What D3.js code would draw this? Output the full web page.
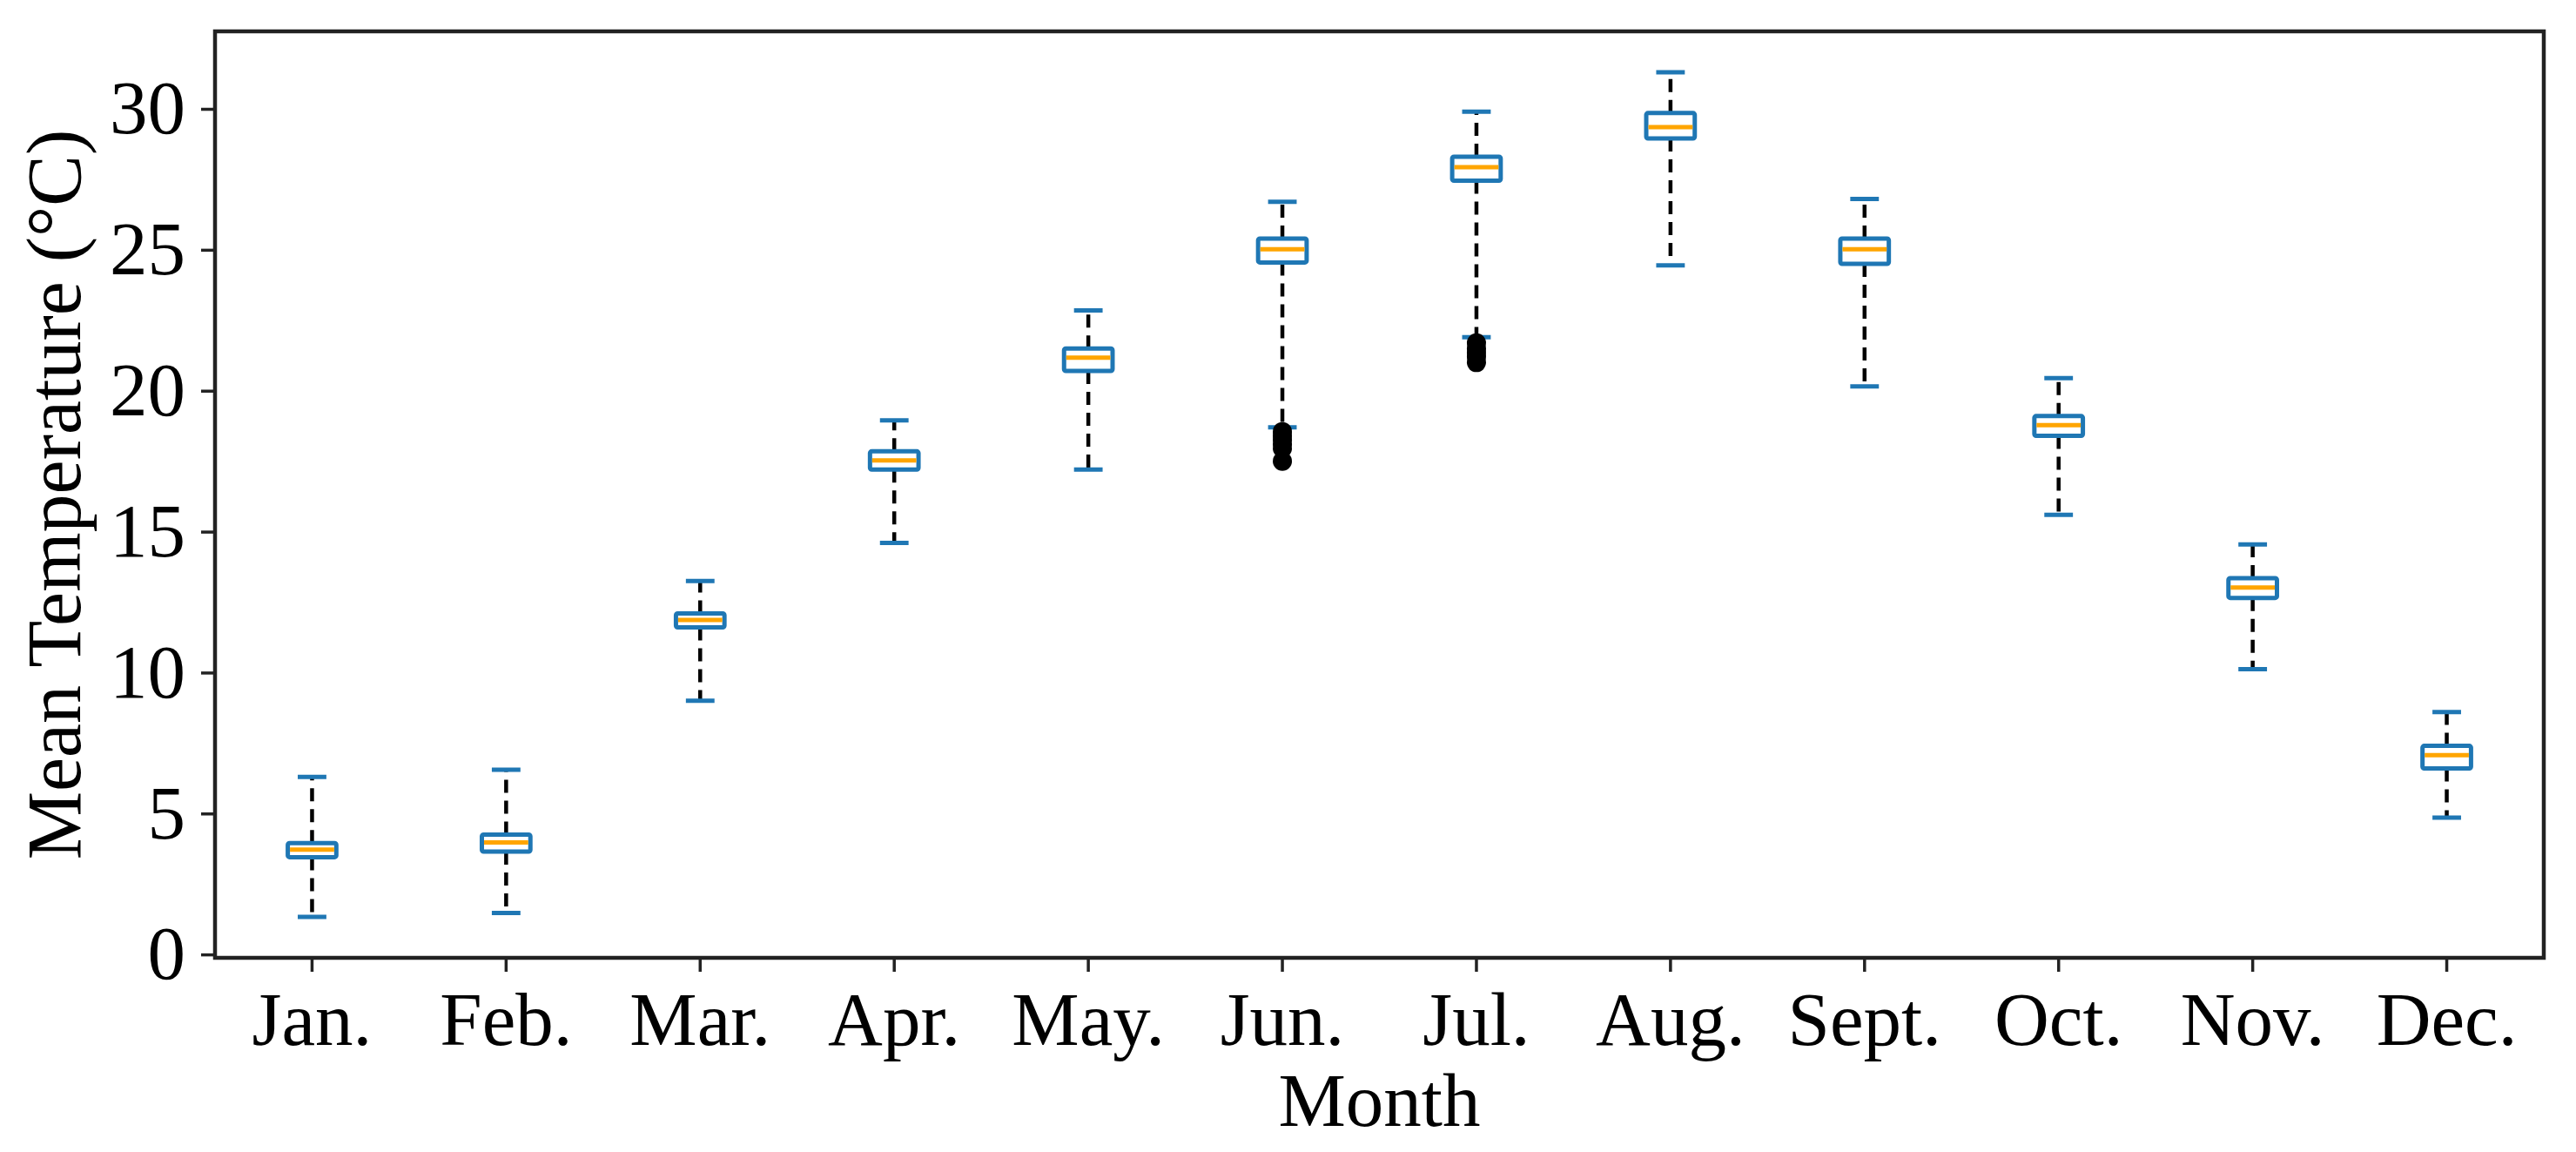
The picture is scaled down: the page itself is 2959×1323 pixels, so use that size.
<!DOCTYPE html>
<html>
<head>
<meta charset="utf-8">
<script src="https://cdn.jsdelivr.net/npm/d3@7"></script>
<style>
  body { margin: 0; background: white; }
  svg { display: block; font-family: 'Liberation Serif', 'Times New Roman', serif; }
</style>
</head>
<body>
<svg class="box-svg" width="2959" height="1323"></svg>
<script>
const months = ['Jan.', 'Feb.', 'Mar.', 'Apr.', 'May.', 'Jun.', 'Jul.', 'Aug.', 'Sept.', 'Oct.', 'Nov.', 'Dec.']
const whiskerHigh = [6.3, 6.55, 13.25, 18.95, 22.85, 26.7, 29.9, 31.3, 26.8, 20.45, 14.55, 8.6]
const q3 = [3.95, 4.25, 12.1, 17.85, 21.5, 25.4, 28.3, 29.85, 25.4, 19.1, 13.35, 7.4]
const medians = [3.72, 3.97, 11.87, 17.53, 21.17, 25.02, 27.93, 29.35, 25.02, 18.78, 13.02, 7.07]
const q1 = [3.45, 3.65, 11.6, 17.2, 20.7, 24.55, 27.45, 28.95, 24.5, 18.4, 12.65, 6.6]
const whiskerLow = [1.33, 1.47, 9.0, 14.6, 17.2, 18.7, 21.9, 24.45, 20.15, 15.6, 10.12, 4.85]
const outlierMonths = ['Jun.', 'Jun.', 'Jun.', 'Jun.', 'Jun.', 'Jun.', 'Jul.', 'Jul.', 'Jul.', 'Jul.', 'Jul.']
const outlierValues = [18.55, 18.4, 18.25, 18.1, 17.95, 17.5, 21.7, 21.5, 21.35, 21.2, 21.0]
const yTicks = [0, 5, 10, 15, 20, 25, 30]

const margin = { top: 36, right: 37, bottom: 223, left: 247 }
const width = 2959 - margin.left - margin.right
const height = 1323 - margin.top - margin.bottom

const blue = '#1f77b4'
const orange = '#ffa500'

const stats = months.map((m, i) => ({
  month: m,
  low: whiskerLow[i],
  q1: q1[i],
  med: medians[i],
  q3: q3[i],
  high: whiskerHigh[i]
}))
const outliers = outlierMonths.map((m, i) => ({ month: m, value: outlierValues[i] }))

const svg = d3.select('.box-svg')
const g = svg.append('g').attr('transform', `translate(${margin.left},${margin.top})`)

const xScale = d3.scaleBand().domain(months).range([0, width]).padding(0)
const yScale = d3.scaleLinear().domain([-0.12, 32.75]).range([height, 0])
const cx = m => xScale(m) + xScale.bandwidth() / 2
const boxW = xScale.bandwidth() * 0.25
const capW = boxW / 2

/**
 * Draws the axes, their ticks and labels in the matplotlib style.
 */
function drawAxes () {
  const xAxis = g.append('g')
    .attr('class', 'x axis')
    .attr('transform', `translate(0,${height})`)
    .call(d3.axisBottom(xScale).tickSize(16).tickPadding(22))
  const yAxis = g.append('g')
    .attr('class', 'y axis')
    .call(d3.axisLeft(yScale).tickValues(yTicks).tickSize(16).tickPadding(18))

  for (const ax of [xAxis, yAxis]) {
    ax.select('.domain').remove()
    ax.selectAll('.tick line').attr('stroke', '#222').attr('stroke-width', 3.5)
    ax.selectAll('.tick text')
      .attr('fill', '#000')
      .style('font-size', '87px')
      .style('font-family', "'Liberation Serif', serif")
  }

  g.append('rect')
    .attr('width', width)
    .attr('height', height)
    .attr('fill', 'none')
    .attr('stroke', '#222')
    .attr('stroke-width', 4.5)

  svg.append('text')
    .attr('x', margin.left + width / 2)
    .attr('y', 1293)
    .attr('text-anchor', 'middle')
    .style('font-size', '87px')
    .text('Month')

  svg.append('text')
    .attr('transform', `translate(92,${margin.top + height / 2}) rotate(-90)`)
    .attr('text-anchor', 'middle')
    .style('font-size', '88px')
    .text('Mean Temperature (°C)')
}

/**
 * Draws one box per month: dashed whiskers, caps, box, median and fliers.
 */
function drawBoxes () {
  const box = g.selectAll('.month-box').data(stats).enter()
    .append('g').attr('class', 'month-box')

  box.append('line')
    .attr('x1', d => cx(d.month)).attr('x2', d => cx(d.month))
    .attr('y1', d => yScale(d.q3)).attr('y2', d => yScale(d.high))
    .attr('stroke', '#000').attr('stroke-width', 4.5).attr('stroke-dasharray', '15,9')
  box.append('line')
    .attr('x1', d => cx(d.month)).attr('x2', d => cx(d.month))
    .attr('y1', d => yScale(d.q1)).attr('y2', d => yScale(d.low))
    .attr('stroke', '#000').attr('stroke-width', 4.5).attr('stroke-dasharray', '15,9')

  for (const key of ['high', 'low']) {
    box.append('line')
      .attr('x1', d => cx(d.month) - capW / 2).attr('x2', d => cx(d.month) + capW / 2)
      .attr('y1', d => yScale(d[key])).attr('y2', d => yScale(d[key]))
      .attr('stroke', blue).attr('stroke-width', 5).attr('stroke-linecap', 'square')
  }

  box.append('rect')
    .attr('x', d => cx(d.month) - boxW / 2)
    .attr('y', d => yScale(d.q3))
    .attr('width', boxW)
    .attr('height', d => yScale(d.q1) - yScale(d.q3))
    .attr('rx', 2)
    .attr('fill', 'white')
    .attr('stroke', blue)
    .attr('stroke-width', 5)

  box.append('line')
    .attr('x1', d => cx(d.month) - boxW / 2 + 2.5).attr('x2', d => cx(d.month) + boxW / 2 - 2.5)
    .attr('y1', d => yScale(d.med)).attr('y2', d => yScale(d.med))
    .attr('stroke', orange).attr('stroke-width', 5)

  g.selectAll('.flier').data(outliers).enter()
    .append('circle')
    .attr('class', 'flier')
    .attr('cx', d => cx(d.month))
    .attr('cy', d => yScale(d.value))
    .attr('r', 11)
    .attr('fill', '#000')
}

drawBoxes()
drawAxes()
</script>
</body>
</html>
